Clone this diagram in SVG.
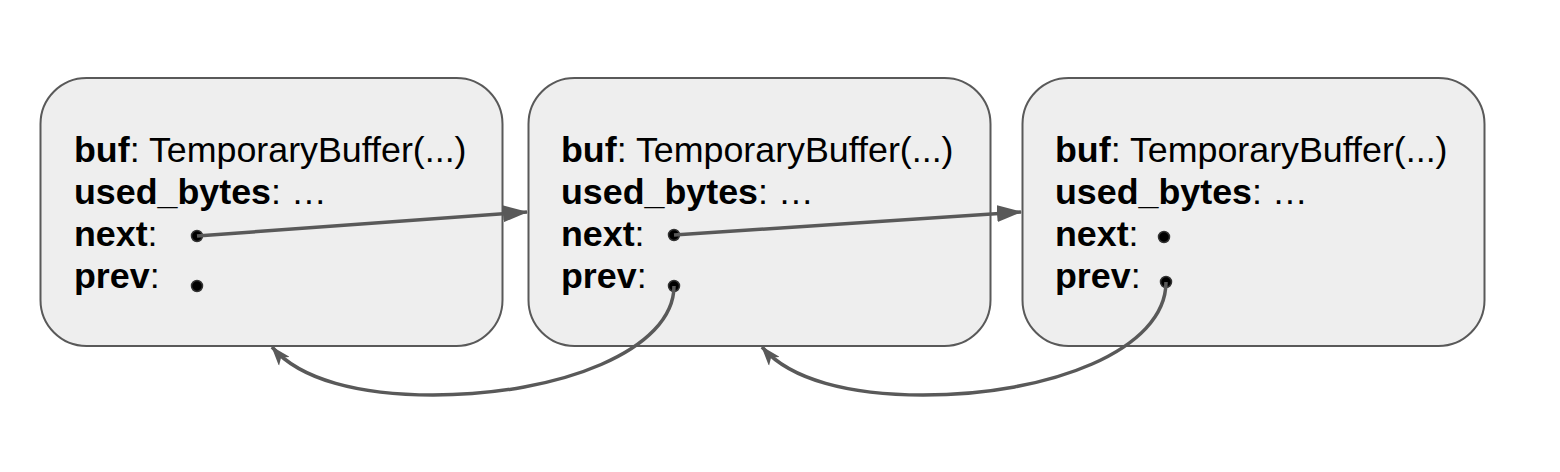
<svg xmlns="http://www.w3.org/2000/svg" width="1560" height="472" viewBox="0 0 1560 472">
<style>
.box{fill:#eeeeee;stroke:#595959;stroke-width:2}
.t{font-family:"Liberation Sans",Arial,sans-serif;font-size:35.8px;fill:#000}
.b{font-weight:bold}
.dot{fill:#000;stroke:#333;stroke-width:1.5}
.con{fill:none;stroke:#595959;stroke-width:3.5}
</style>
<defs>
<marker id="ah" viewBox="0 0 25 17" refX="24" refY="8.5" markerWidth="25" markerHeight="17" markerUnits="userSpaceOnUse" orient="auto">
<path d="M0,0 L25,8.5 L0,17 Z" fill="#595959"/>
</marker>
<marker id="ah2" viewBox="0 0 20 14" refX="19" refY="7" markerWidth="20" markerHeight="14" markerUnits="userSpaceOnUse" orient="auto">
<path d="M0,0 L20,7 L0,14 L5,7 Z" fill="#595959"/>
</marker>
</defs>
<rect width="1560" height="472" fill="#ffffff"/>
<g id="node1">
<rect class="box" x="40.5" y="78" width="462" height="268" rx="46"/>
<text class="t" x="74" y="162"><tspan class="b">buf</tspan>: TemporaryBuffer(...)</text>
<text class="t" x="74" y="204"><tspan class="b">used_bytes</tspan>: …</text>
<text class="t" x="74" y="246"><tspan class="b">next</tspan>:</text>
<text class="t" x="74" y="288"><tspan class="b">prev</tspan>:</text>
<circle class="dot" cx="197" cy="236" r="5.5"/>
<circle class="dot" cx="197" cy="286" r="5.5"/>
</g>
<g id="node2">
<rect class="box" x="528.5" y="78" width="462" height="268" rx="46"/>
<text class="t" x="561" y="162"><tspan class="b">buf</tspan>: TemporaryBuffer(...)</text>
<text class="t" x="561" y="204"><tspan class="b">used_bytes</tspan>: …</text>
<text class="t" x="561" y="246"><tspan class="b">next</tspan>:</text>
<text class="t" x="561" y="288"><tspan class="b">prev</tspan>:</text>
<circle class="dot" cx="674" cy="235" r="5.5"/>
<circle class="dot" cx="674" cy="286" r="5.5"/>
</g>
<g id="node3">
<rect class="box" x="1022.5" y="78" width="462" height="268" rx="46"/>
<text class="t" x="1055" y="162"><tspan class="b">buf</tspan>: TemporaryBuffer(...)</text>
<text class="t" x="1055" y="204"><tspan class="b">used_bytes</tspan>: …</text>
<text class="t" x="1055" y="246"><tspan class="b">next</tspan>:</text>
<text class="t" x="1055" y="288"><tspan class="b">prev</tspan>:</text>
<circle class="dot" cx="1164" cy="237" r="5.5"/>
<circle class="dot" cx="1166" cy="282" r="5.5"/>
</g>
<g id="connectors">
<path class="con" d="M197,236 L527,212" marker-end="url(#ah)"/>
<path class="con" d="M674,235 L1021,212" marker-end="url(#ah)"/>
<path class="con" d="M674,286 C674,350 560,395 433,395 C360,395 300,380 272,347" marker-end="url(#ah2)"/>
<path class="con" d="M1166,282 C1166,350 1050,395 923,395 C850,395 790,380 762,347" marker-end="url(#ah2)"/>
</g>
</svg>
